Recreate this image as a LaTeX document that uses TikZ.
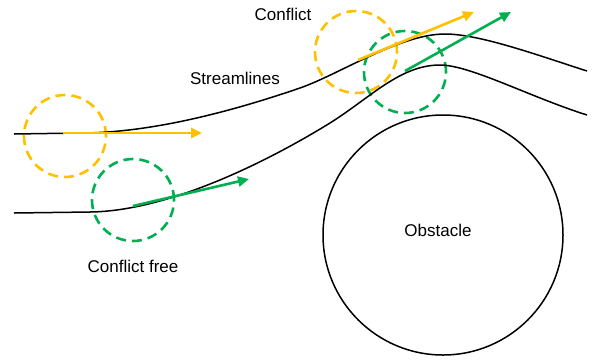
\documentclass[tikz,border=0pt]{standalone}
\usepackage{fontspec}
\setmainfont{Liberation Sans}
\usetikzlibrary{arrows.meta, positioning}
\definecolor{conflictyellow}{RGB}{255, 192, 0}
\definecolor{freegreen}{RGB}{0, 176, 80}

\begin{document}
\begin{tikzpicture}[
        x=1pt, y=-1pt,
        stream/.style={line width=1.5pt, black},
        zone/.style={circle, draw, dashed, line width=2.6pt, dash pattern=on 10pt off 6pt, minimum size=82pt, inner sep=0pt},
        heading/.style={arrows={-Triangle[length=11pt, width=10pt]}, line width=2.6pt},
        tag/.style={font=\fontsize{17}{20}\selectfont}
    ]
        \useasboundingbox (0,0) rectangle (594,360);

        % Obstacle
        \node[circle, draw, line width=1.5pt, minimum size=240pt, inner sep=0pt, tag] (obstacle) at (443,235) {};
        \node[tag] (obstlabel) at (438,230) {Obstacle};

        % Safety zones (dashed)
        \node[zone, conflictyellow] (yzoneA) at (65,136) {};
        \node[zone, freegreen] (gzoneA) at (133,200) {};
        \node[zone, conflictyellow] (yzoneB) at (356,52) {};
        \node[zone, freegreen] (gzoneB) at (405,72) {};

        % Streamlines
        \draw[stream] (14,134) -- (80,133)
            .. controls (150,133) and (230,112) .. (300,88)
            .. controls (340,74) and (400,34) .. (445,34)
            .. controls (480,34) and (540,56) .. (587,71);
        \draw[stream] (14,213) -- (90,212)
            .. controls (170,211) and (270,160) .. (330,123)
            .. controls (370,98) and (400,65) .. (440,65)
            .. controls (470,65) and (530,97) .. (587,115);

        % Heading vectors
        \coordinate (yA1) at (63,133);
        \coordinate (yA2) at (202,133);
        \coordinate (gA1) at (133,206);
        \coordinate (gA2) at (249,179);
        \coordinate (yB1) at (358,60);
        \coordinate (yB2) at (474,12);
        \coordinate (gB1) at (405,71);
        \coordinate (gB2) at (511,12);
        \draw[heading, conflictyellow] (yA1) -- (yA2);
        \draw[heading, freegreen] (gA1) -- (gA2);
        \draw[heading, conflictyellow] (yB1) -- (yB2);
        \draw[heading, freegreen] (gB1) -- (gB2);

        % Labels
        \node[tag] (conflict) at (283,14) {Conflict};
        \node[tag] (streamlabel) at (235,78) {Streamlines};
        \node[tag] (freelabel) at (133,266) {Conflict free};
    \end{tikzpicture}
\end{document}
